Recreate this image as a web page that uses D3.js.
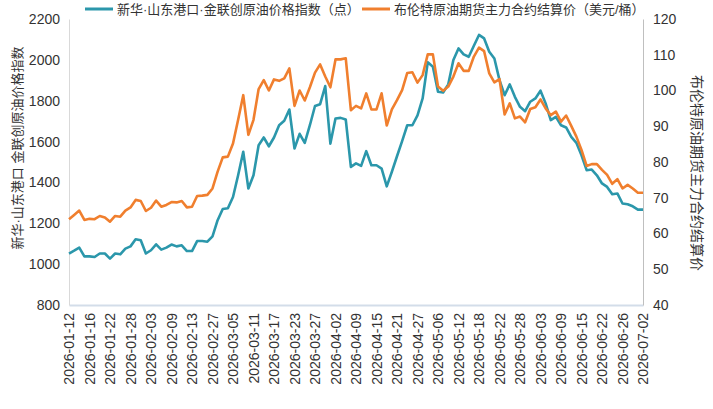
<!DOCTYPE html>
<html>
<head>
<meta charset="utf-8">
<script src="https://cdn.jsdelivr.net/npm/d3@7"></script>
<style>
body{margin:0;background:#fff;}
text{font-family:"Liberation Sans","Noto Sans CJK SC",sans-serif;fill:#333;}
</style>
</head>
<body>
<svg id="svg" width="713" height="409"></svg>
<script>
var dates=["2026-01-12","2026-01-13","2026-01-14","2026-01-15","2026-01-16","2026-01-19","2026-01-20","2026-01-21","2026-01-22","2026-01-23","2026-01-26","2026-01-27","2026-01-28","2026-01-29","2026-01-30",
"2026-02-02","2026-02-03","2026-02-04","2026-02-05","2026-02-06","2026-02-09","2026-02-10","2026-02-11","2026-02-12","2026-02-13","2026-02-24","2026-02-25","2026-02-26","2026-02-27",
"2026-03-02","2026-03-03","2026-03-04","2026-03-05","2026-03-06","2026-03-09","2026-03-10","2026-03-11","2026-03-12","2026-03-13","2026-03-16","2026-03-17","2026-03-18","2026-03-19","2026-03-20","2026-03-23","2026-03-24","2026-03-25","2026-03-26","2026-03-27","2026-03-30","2026-03-31",
"2026-04-01","2026-04-02","2026-04-03","2026-04-07","2026-04-08","2026-04-09","2026-04-10","2026-04-13","2026-04-14","2026-04-15","2026-04-16","2026-04-17","2026-04-20","2026-04-21","2026-04-22","2026-04-23","2026-04-24","2026-04-27","2026-04-28","2026-04-29","2026-04-30",
"2026-05-06","2026-05-07","2026-05-08","2026-05-11","2026-05-12","2026-05-13","2026-05-14","2026-05-15","2026-05-18","2026-05-19","2026-05-20","2026-05-21","2026-05-22","2026-05-25","2026-05-26","2026-05-27","2026-05-28","2026-05-29",
"2026-06-01","2026-06-02","2026-06-03","2026-06-04","2026-06-05","2026-06-08","2026-06-09","2026-06-10","2026-06-11","2026-06-12","2026-06-15","2026-06-16","2026-06-17","2026-06-18","2026-06-22","2026-06-23","2026-06-24","2026-06-25","2026-06-26","2026-06-29","2026-06-30",
"2026-07-01","2026-07-02"];

// 新华·山东港口·金联创原油价格指数（点）
var indexValues=[1052,1066,1081,1038,1038,1035,1052,1052,1027,1052,
1048,1076,1087,1122,1117,1052,1068,1097,1071,1081,
1096,1087,1092,1064,1064,1113,1113,1110,1136,1215,
1270,1274,1329,1435,1550,1370,1435,1582,1620,1577,
1620,1680,1702,1757,1566,1638,1594,1680,1774,1783,
1872,1590,1713,1716,1708,1476,1493,1481,1553,1484,
1484,1468,1381,1452,1528,1602,1680,1680,1728,1811,
1988,1966,1844,1840,1880,1999,2056,2027,2015,2069,
2122,2105,2040,2007,1901,1827,1880,1819,1770,1749,
1795,1811,1849,1787,1705,1721,1680,1669,1623,1594,
1533,1460,1463,1435,1395,1378,1342,1346,1297,1293,
1283,1267,1267];

// 布伦特原油期货主力合约结算价（美元/桶）
var brentValues=[64.0,65.2,66.4,63.8,64.1,64.0,64.9,64.5,63.3,64.9,
64.7,66.4,67.3,69.4,69.1,66.3,67.2,69.2,67.5,68.0,
68.8,68.7,69.1,67.3,67.5,70.5,70.6,70.8,72.6,77.3,
81.3,81.5,85.2,91.8,98.7,87.6,91.8,100.4,102.9,100.0,
103.1,102.7,103.4,106.2,95.7,100.0,97.2,100.9,105.0,107.3,
103.9,100.9,108.7,108.7,109.0,94.5,95.7,95.0,99.2,94.7,
94.7,99.2,90.2,94.7,97.3,100.1,104.9,105.1,102.2,104.3,
110.1,110.1,101.1,99.9,101.1,103.9,107.6,105.5,105.5,109.5,
112.0,111.0,104.8,102.3,103.2,93.3,96.4,92.2,92.7,91.1,
94.8,95.3,97.5,95.0,93.1,94.1,91.3,93.0,90.1,87.1,
83.4,78.9,79.4,79.4,77.8,76.4,73.9,75.2,72.6,73.6,
72.6,71.4,71.4];

var leftTicks=[800,1000,1200,1400,1600,1800,2000,2200];
var rightTicks=[40,50,60,70,80,90,100,110,120];
var seriesNames=["新华·山东港口·金联创原油价格指数（点）","布伦特原油期货主力合约结算价（美元/桶）"];
var leftTitle="新华·山东港口 金联创原油价格指数";
var rightTitle="布伦特原油期货主力合约结算价";
var colors=["#2b97ab","#f07f2e"];

var svg=d3.select("#svg");
var padding={top:19,right:70,bottom:104,left:69};
var width=713, height=409;
var chartArea={
  width:width-padding.left-padding.right,
  height:height-padding.top-padding.bottom
};

var xScale=d3.scalePoint()
  .domain(dates)
  .range([0,chartArea.width]);

var yLeft=d3.scaleLinear().domain([800,2200]).range([chartArea.height,0]);
var yRight=d3.scaleLinear().domain([40,120]).range([chartArea.height,0]);

var g=svg.append("g").attr("transform","translate("+padding.left+","+padding.top+")");

// axes
var xAxis=g.append("g")
  .attr("transform","translate(0,"+chartArea.height+")")
  .call(d3.axisBottom(xScale)
    .tickValues(dates.filter(function(d,i){return i%4===0;}))
    .tickSize(0).tickPadding(0));
xAxis.select(".domain").attr("stroke","#d3dde9").attr("stroke-width",2);
xAxis.selectAll("text")
  .attr("transform","rotate(-90)")
  .attr("text-anchor","end")
  .attr("x",-8)
  .attr("y",0)
  .attr("dy","0.35em")
  .style("font-size","14px");

var yAxisL=g.append("g")
  .call(d3.axisLeft(yLeft).tickValues(leftTicks).tickFormat(d3.format("d")).tickSize(0).tickPadding(9));
yAxisL.select(".domain").attr("stroke","#d9d9d9");
yAxisL.selectAll("text").style("font-size","14px");

var yAxisR=g.append("g")
  .attr("transform","translate("+chartArea.width+",0)")
  .call(d3.axisRight(yRight).tickValues(rightTicks).tickFormat(d3.format("d")).tickSize(0).tickPadding(10));
yAxisR.select(".domain").attr("stroke","#bfbfbf");
yAxisR.selectAll("text").style("font-size","14px");

// lines
var lineL=d3.line()
  .x(function(d,i){return xScale(dates[i]);})
  .y(function(d){return yLeft(d);});
var lineR=d3.line()
  .x(function(d,i){return xScale(dates[i]);})
  .y(function(d){return yRight(d);});

g.append("path").datum(indexValues)
  .attr("fill","none").attr("stroke",colors[0]).attr("stroke-width",2.6)
  .attr("stroke-linejoin","round")
  .attr("d",lineL);
g.append("path").datum(brentValues)
  .attr("fill","none").attr("stroke",colors[1]).attr("stroke-width",2.6)
  .attr("stroke-linejoin","round")
  .attr("d",lineR);

// axis titles
svg.append("text")
  .attr("transform","translate(17,148) rotate(-90)")
  .attr("text-anchor","middle")
  .attr("dy","0.35em")
  .style("font-size","13px")
  .text(leftTitle);
svg.append("text")
  .attr("transform","translate(697,173) rotate(90)")
  .attr("text-anchor","middle")
  .attr("dy","0.35em")
  .style("font-size","14px")
  .text(rightTitle);

// legend
var legendPos=[85,362];
var legend=svg.selectAll(".legend").data(seriesNames).enter()
  .append("g").attr("class","legend")
  .attr("transform",function(d,i){return "translate("+legendPos[i]+",9)";});
legend.append("line")
  .attr("x1",0).attr("x2",28).attr("y1",0).attr("y2",0)
  .attr("stroke",function(d,i){return colors[i];})
  .attr("stroke-width",3);
legend.append("text")
  .attr("x",32).attr("dy","0.35em")
  .style("font-size","13px")
  .text(function(d){return d;});
</script>
</body>
</html>
